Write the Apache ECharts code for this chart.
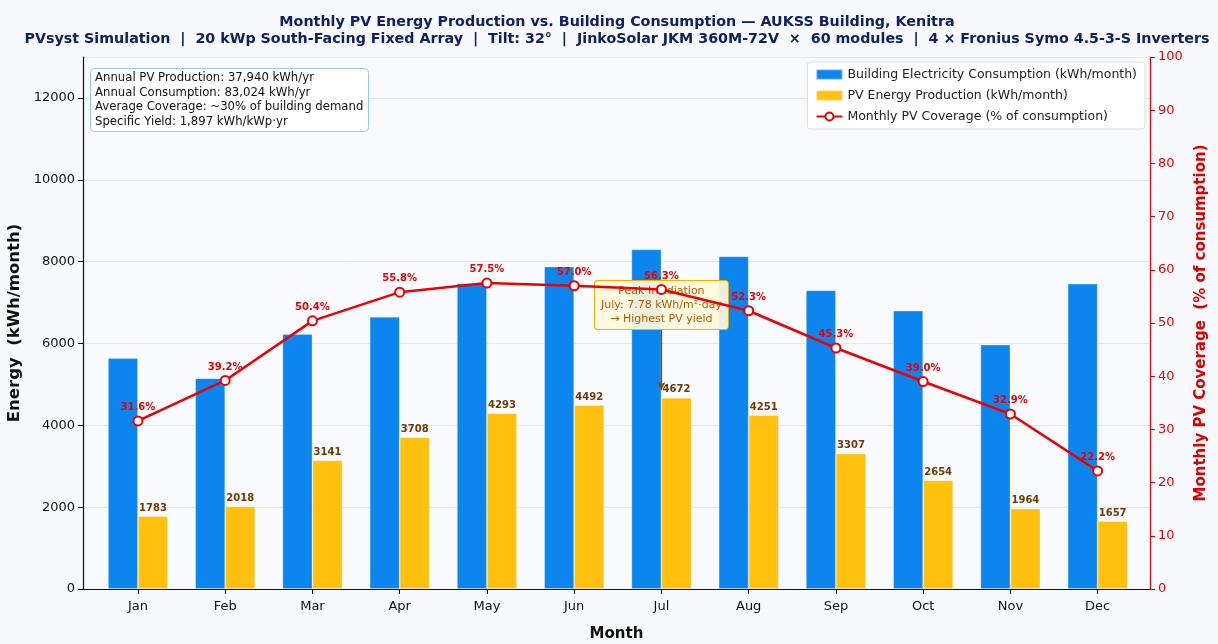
<!DOCTYPE html>
<html>
<head>
<meta charset="utf-8">
<script src="https://cdn.jsdelivr.net/npm/echarts@6/dist/echarts.min.js"></script>
<style>
html,body{margin:0;padding:0;background:#f7f9fc;}
#c{width:1218px;height:644px;}
</style>
</head>
<body>
<div id="c"></div>
<script>
const months = ['Jan','Feb','Mar','Apr','May','Jun','Jul','Aug','Sep','Oct','Nov','Dec'];
const consumption = [5640, 5150, 6230, 6650, 7470, 7880, 8300, 8130, 7300, 6800, 5970, 7460];
const pvProduction = [1783, 2018, 3141, 3708, 4293, 4492, 4672, 4251, 3307, 2654, 1964, 1657];
const coverage = [31.6, 39.2, 50.4, 55.8, 57.5, 57.0, 56.3, 52.3, 45.3, 39.0, 32.9, 22.2];
const infoLines = [
  'Annual PV Production: 37,940 kWh/yr',
  'Annual Consumption: 83,024 kWh/yr',
  'Average Coverage: ~30% of building demand',
  'Specific Yield: 1,897 kWh/kWp\u00b7yr'
];
const peakNote = ['Peak Irradiation', 'July: 7.78 kWh/m\u00b2\u00b7day', '\u2192 Highest PV yield'];
const peakMonthIdx = 6;
const peakBoxValue = 6940;
const arrowStartValue = 6330;
const arrowEndValue = 4860;

const FONT = 'DejaVu Sans';
const chart = echarts.init(document.getElementById('c'), null, {renderer: 'canvas'});
const idx = months.map((m, i) => i);

const option = {
  backgroundColor: '#f7f9fc',
  textStyle: {fontFamily: FONT},
  animation: false,
  title: [{
    text: 'Monthly PV Energy Production vs. Building Consumption \u2014 AUKSS Building, Kenitra',
    left: 612, top: 10, textAlign: 'center',
    textStyle: {fontFamily: FONT, fontSize: 14.3, fontWeight: 'bold', color: '#0f2068'}
  }, {
    text: 'PVsyst Simulation  |  20 kWp South-Facing Fixed Array  |  Tilt: 32\u00b0  |  JinkoSolar JKM 360M-72V  \u00d7  60 modules  |  4 \u00d7 Fronius Symo 4.5-3-S Inverters',
    left: 612, top: 27, textAlign: 'center',
    textStyle: {fontFamily: FONT, fontSize: 14.25, fontWeight: 'bold', color: '#0f2068'}
  }],
  grid: {left: 83, right: 68, top: 57, bottom: 55, containLabel: false,
         outerBoundsMode: 'none',
         show: true, backgroundColor: '#f9fafd', borderWidth: 0},
  legend: {
    orient: 'vertical', right: 73, top: 62,
    backgroundColor: '#ffffff', borderColor: '#dddddd', borderWidth: 1, borderRadius: 3,
    padding: [6, 8, 6, 8], itemGap: 8, itemWidth: 26, itemHeight: 10,
    textStyle: {fontFamily: FONT, fontSize: 12.5, color: '#222'},
    data: [
      {name: 'Building Electricity Consumption (kWh/month)', icon: 'rect'},
      {name: 'PV Energy Production (kWh/month)', icon: 'rect'},
      {name: 'Monthly PV Coverage (% of consumption)'}
    ]
  },
  xAxis: {
    type: 'value', min: -0.63, max: 11.6,
    name: 'Month', nameLocation: 'middle', nameGap: 38,
    nameTextStyle: {fontFamily: FONT, fontSize: 15, fontWeight: 'bold', color: '#111'},
    axisLine: {show: true, onZero: false, lineStyle: {color: '#111', width: 1.2}},
    axisTick: {show: true, customValues: idx, length: 5, lineStyle: {color: '#111'}},
    axisLabel: {show: true, customValues: idx, margin: 11, fontSize: 13, color: '#111',
      formatter: v => months[Math.round(v)]},
    splitLine: {show: false}
  },
  yAxis: [{
    type: 'value', min: 0, max: 13000, interval: 2000,
    name: 'Energy  (kWh/month)', nameLocation: 'middle', nameGap: 56, nameRotate: 90,
    nameTextStyle: {fontFamily: FONT, fontSize: 16.5, fontWeight: 'bold', color: '#111'},
    axisLine: {show: true, onZero: false, lineStyle: {color: '#111', width: 1.2}},
    axisTick: {show: true, length: 5, lineStyle: {color: '#111'}},
    axisLabel: {fontSize: 13, color: '#111', margin: 8, showMaxLabel: false, formatter: v => String(v)},
    splitLine: {show: true, lineStyle: {color: '#e4e7ec', width: 1}}
  }, {
    type: 'value', min: 0, max: 100, interval: 10, position: 'right',
    name: 'Monthly PV Coverage  (% of consumption)', nameLocation: 'middle', nameGap: 40, nameRotate: 90,
    nameTextStyle: {fontFamily: FONT, fontSize: 15, fontWeight: 'bold', color: '#e00000'},
    axisLine: {show: true, onZero: false, lineStyle: {color: '#ee0000', width: 1.2}},
    axisTick: {show: true, length: 5, lineStyle: {color: '#ee0000'}},
    axisLabel: {fontSize: 13, color: '#ee0000', margin: 8},
    splitLine: {show: false}
  }],
  series: [{
    name: 'Building Electricity Consumption (kWh/month)',
    type: 'bar', xAxisIndex: 0, yAxisIndex: 0,
    data: consumption.map((v, i) => [i, v]),
    barWidth: 30, barGap: '0%',
    itemStyle: {color: '#0c86ee', borderColor: 'rgba(255,255,255,0.35)', borderWidth: 0.8}
  }, {
    name: 'PV Energy Production (kWh/month)',
    type: 'bar', xAxisIndex: 0, yAxisIndex: 0,
    data: pvProduction.map((v, i) => [i, v]),
    barWidth: 30, barGap: '0%',
    itemStyle: {color: '#ffc10e', borderColor: 'rgba(255,255,255,0.35)', borderWidth: 0.8},
    label: {show: true, position: 'top', distance: 3, fontSize: 10, fontWeight: 'bold', color: '#6e3a06',
      formatter: p => p.value[1]},
    z: 2
  }, {
    name: 'annotation', type: 'scatter', xAxisIndex: 0, yAxisIndex: 0,
    data: [], z: 3, silent: true,
    markLine: {
      silent: true, symbol: ['none', 'arrow'], symbolSize: [6, 8],
      lineStyle: {color: '#7a4a10', width: 1.2, type: 'solid'},
      label: {show: false},
      data: [[{coord: [peakMonthIdx, arrowStartValue]}, {coord: [peakMonthIdx, arrowEndValue]}]]
    },
    markPoint: {
      silent: true, symbol: 'rect', symbolSize: 1, itemStyle: {color: 'rgba(0,0,0,0)'},
      label: {
        show: true, position: 'inside', formatter: peakNote.join('\n'),
        fontFamily: FONT, fontSize: 11, lineHeight: 14, color: '#b35a00', align: 'center',
        backgroundColor: 'rgba(255,249,222,0.92)', borderColor: '#f2b000', borderWidth: 1,
        borderRadius: 3, padding: [3, 6, 3, 6]
      },
      data: [{coord: [peakMonthIdx, peakBoxValue]}]
    }
  }, {
    name: 'Monthly PV Coverage (% of consumption)',
    type: 'line', xAxisIndex: 0, yAxisIndex: 1,
    data: coverage.map((v, i) => [i, v]),
    symbol: 'circle', symbolSize: 9,
    lineStyle: {color: '#ee0000', width: 2.5},
    itemStyle: {color: '#ffffff', borderColor: '#ee0000', borderWidth: 2},
    label: {show: true, position: 'top', distance: 3, fontSize: 10, fontWeight: 'bold', color: '#ee0000',
      formatter: p => p.value[1].toFixed(1) + '%'},
    z: 5
  }],
  color: ['#0c86ee', '#ffc10e', '#ee0000'],
  graphic: [{
    type: 'rect', left: 90, top: 68, z: 10,
    shape: {width: 278, height: 63, r: 4},
    style: {fill: '#ffffff', stroke: '#8fcdf0', lineWidth: 1}
  }, {
    type: 'text', left: 95, top: 71, z: 11,
    style: {text: infoLines.join('\n'), font: '11.7px "DejaVu Sans"', lineHeight: 14.5, fill: '#111'}
  }]
};
chart.setOption(option);
</script>
</body>
</html>
